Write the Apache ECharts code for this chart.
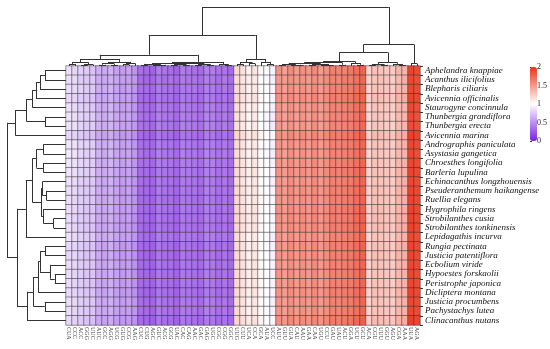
<!DOCTYPE html>
<html><head><meta charset="utf-8">
<script src="https://cdn.jsdelivr.net/npm/echarts@6/dist/echarts.min.js"></script>
<style>html,body{margin:0;padding:0;background:#fff}#c{width:550px;height:349px}</style>
</head><body><div id="c"></div>
<script>
// Column (codon) labels, in clustered order
const codons = ['CUA','CCC','ACC','GGG','UUC','AUC','GCC','AGG','UCG','GUG','CCG','AAG',
  'CUC','CUG','AGC','GUC','ACG','GCG','UAC','CAC','CAG','AAC','GAC','GAG','UGC','CGC','CGG','GGC',
  'UUG','CUU','UCA','CCA','GCA','AUA','UCC',
  'AUU','GUU','GUA','CAU','AAU','GAA','CAA','UGU','CCU','GAU','UAU','ACU','GGA','UCU','GCU',
  'ACA','CGU','UUU','GGU','AGU','CGA','AAA','UUA','AGA'];
// Row (species) labels, in clustered order
const species = ['Aphelandra knappiae','Acanthus ilicifolius','Blepharis ciliaris','Avicennia officinalis',
  'Staurogyne concinnula','Thunbergia grandiflora','Thunbergia erecta','Avicennia marina',
  'Andrographis paniculata','Asystasia gangetica','Chroesthes longifolia','Barleria lupulina',
  'Echinacanthus longzhouensis','Pseuderanthemum haikangense','Ruellia elegans','Hygrophila ringens',
  'Strobilanthes cusia','Strobilanthes tonkinensis','Lepidagathis incurva','Rungia pectinata',
  'Justicia patentiflora','Ecbolium viride','Hypoestes forskaolii','Peristrophe japonica',
  'Dicliptera montana','Justicia procumbens','Pachystachys lutea','Clinacanthus nutans'];
// RSCU values, one array per species (same order as codons)
const r00=[0.86,0.81,0.78,0.77,0.73,0.64,0.61,0.66,0.57,0.55,0.58,0.51,0.35,0.32,0.29,0.41,0.37,0.34,0.30,0.41,0.38,0.35,0.33,0.43,0.41,0.36,0.37,0.32,1.19,1.15,1.07,1.13,1.03,0.99,0.94,1.53,1.47,1.56,1.49,1.55,1.51,1.57,1.49,1.54,1.63,1.61,1.62,1.66,1.71,1.76,1.21,1.31,1.29,1.27,1.26,1.36,1.37,1.91,1.89];
const r01=[0.84,0.83,0.77,0.75,0.74,0.62,0.60,0.64,0.59,0.56,0.56,0.53,0.33,0.31,0.30,0.39,0.35,0.36,0.32,0.40,0.37,0.36,0.34,0.42,0.39,0.34,0.39,0.34,1.17,1.13,1.09,1.11,1.01,0.97,0.92,1.51,1.49,1.54,1.51,1.53,1.49,1.55,1.51,1.56,1.61,1.59,1.64,1.64,1.69,1.74,1.23,1.29,1.31,1.29,1.24,1.34,1.39,1.89,1.87];
const r02=[0.85,0.82,0.79,0.76,0.75,0.63,0.61,0.65,0.58,0.54,0.57,0.52,0.34,0.33,0.31,0.40,0.36,0.35,0.31,0.39,0.38,0.37,0.33,0.41,0.40,0.35,0.38,0.33,1.18,1.15,1.08,1.12,1.02,0.98,0.94,1.52,1.48,1.55,1.50,1.54,1.50,1.56,1.50,1.55,1.62,1.60,1.63,1.65,1.70,1.75,1.22,1.30,1.30,1.28,1.25,1.35,1.38,1.90,1.88];
const r03=[0.83,0.80,0.76,0.74,0.72,0.61,0.59,0.63,0.57,0.55,0.56,0.51,0.33,0.31,0.29,0.39,0.35,0.34,0.30,0.39,0.37,0.35,0.32,0.41,0.39,0.34,0.37,0.32,1.20,1.16,1.10,1.14,1.04,1.00,0.95,1.54,1.50,1.57,1.52,1.56,1.52,1.58,1.52,1.57,1.64,1.62,1.65,1.67,1.72,1.77,1.24,1.32,1.32,1.30,1.27,1.37,1.40,1.92,1.90];
const r04=[0.86,0.83,0.78,0.77,0.74,0.64,0.61,0.66,0.59,0.56,0.58,0.53,0.35,0.33,0.31,0.41,0.37,0.36,0.32,0.41,0.39,0.37,0.34,0.43,0.41,0.36,0.39,0.34,1.17,1.13,1.07,1.11,1.01,0.97,0.92,1.51,1.47,1.54,1.49,1.53,1.49,1.55,1.49,1.54,1.61,1.59,1.62,1.64,1.69,1.74,1.21,1.29,1.29,1.27,1.24,1.34,1.37,1.89,1.87];
const r05=[0.87,0.84,0.80,0.78,0.76,0.65,0.62,0.67,0.60,0.57,0.59,0.54,0.36,0.34,0.32,0.42,0.38,0.37,0.33,0.42,0.40,0.38,0.35,0.44,0.42,0.37,0.40,0.35,1.16,1.12,1.06,1.10,1.00,0.96,0.91,1.50,1.46,1.53,1.48,1.52,1.48,1.54,1.48,1.53,1.60,1.58,1.61,1.63,1.68,1.73,1.20,1.28,1.28,1.26,1.23,1.33,1.36,1.88,1.86];
const r06=[0.87,0.85,0.80,0.77,0.76,0.65,0.62,0.66,0.60,0.57,0.58,0.54,0.36,0.34,0.31,0.42,0.38,0.37,0.33,0.42,0.40,0.38,0.35,0.44,0.42,0.37,0.40,0.35,1.16,1.12,1.06,1.10,1.00,0.96,0.91,1.50,1.46,1.53,1.48,1.52,1.48,1.54,1.48,1.53,1.60,1.58,1.61,1.63,1.68,1.73,1.20,1.28,1.28,1.26,1.23,1.33,1.36,1.88,1.86];
const r07=[0.82,0.79,0.75,0.73,0.71,0.60,0.58,0.62,0.56,0.53,0.55,0.50,0.32,0.30,0.28,0.38,0.34,0.33,0.29,0.38,0.36,0.34,0.31,0.40,0.38,0.33,0.36,0.31,1.21,1.17,1.11,1.15,1.05,1.01,0.96,1.55,1.51,1.58,1.53,1.57,1.53,1.59,1.53,1.58,1.65,1.63,1.66,1.68,1.73,1.78,1.25,1.33,1.33,1.31,1.28,1.38,1.41,1.93,1.91];
const r08=[0.89,0.86,0.80,0.79,0.77,0.64,0.62,0.66,0.60,0.56,0.58,0.53,0.35,0.33,0.31,0.41,0.37,0.36,0.32,0.41,0.39,0.37,0.34,0.43,0.41,0.36,0.39,0.34,1.18,1.14,1.08,1.12,1.02,0.98,0.93,1.52,1.48,1.55,1.50,1.54,1.50,1.56,1.50,1.55,1.62,1.60,1.63,1.65,1.70,1.75,1.22,1.30,1.30,1.28,1.25,1.35,1.38,1.90,1.88];
const r09=[0.90,0.87,0.81,0.78,0.78,0.65,0.61,0.67,0.59,0.57,0.59,0.54,0.36,0.33,0.32,0.42,0.38,0.36,0.33,0.42,0.39,0.38,0.35,0.44,0.41,0.37,0.40,0.35,1.17,1.13,1.07,1.11,1.01,0.97,0.92,1.51,1.47,1.54,1.49,1.53,1.49,1.55,1.49,1.54,1.61,1.59,1.62,1.64,1.69,1.74,1.21,1.29,1.29,1.27,1.24,1.34,1.37,1.89,1.87];
const r10=[0.89,0.86,0.81,0.79,0.77,0.64,0.62,0.66,0.60,0.56,0.59,0.53,0.35,0.34,0.31,0.41,0.38,0.36,0.32,0.41,0.40,0.37,0.34,0.43,0.42,0.36,0.39,0.34,1.18,1.14,1.08,1.12,1.02,0.98,0.93,1.52,1.48,1.55,1.50,1.54,1.50,1.56,1.50,1.55,1.62,1.60,1.63,1.65,1.70,1.75,1.22,1.30,1.30,1.28,1.25,1.35,1.38,1.90,1.88];
const r11=[0.88,0.85,0.80,0.78,0.76,0.63,0.61,0.65,0.59,0.55,0.58,0.52,0.34,0.33,0.30,0.40,0.37,0.35,0.31,0.40,0.39,0.36,0.33,0.42,0.41,0.35,0.38,0.33,1.19,1.15,1.09,1.13,1.03,0.99,0.94,1.53,1.49,1.56,1.51,1.55,1.51,1.57,1.51,1.56,1.63,1.61,1.64,1.66,1.71,1.76,1.23,1.31,1.31,1.29,1.26,1.36,1.39,1.91,1.89];
const r12=[0.86,0.83,0.78,0.76,0.75,0.63,0.60,0.65,0.58,0.55,0.57,0.52,0.34,0.32,0.30,0.40,0.36,0.35,0.31,0.40,0.38,0.36,0.33,0.42,0.40,0.35,0.38,0.33,1.18,1.14,1.08,1.12,1.02,0.98,0.93,1.52,1.48,1.55,1.50,1.54,1.50,1.56,1.50,1.55,1.62,1.60,1.63,1.65,1.70,1.75,1.22,1.30,1.30,1.28,1.25,1.35,1.38,1.90,1.88];
const r13=[0.85,0.82,0.77,0.75,0.74,0.62,0.60,0.64,0.58,0.54,0.57,0.51,0.33,0.32,0.29,0.40,0.36,0.34,0.31,0.40,0.37,0.36,0.32,0.42,0.40,0.35,0.37,0.33,1.19,1.15,1.09,1.13,1.03,0.99,0.94,1.53,1.49,1.56,1.51,1.55,1.51,1.57,1.51,1.56,1.63,1.61,1.64,1.66,1.71,1.76,1.23,1.31,1.31,1.29,1.26,1.36,1.39,1.91,1.89];
const r14=[0.85,0.81,0.77,0.75,0.73,0.62,0.59,0.64,0.57,0.54,0.56,0.51,0.33,0.31,0.29,0.39,0.35,0.34,0.30,0.39,0.37,0.35,0.32,0.41,0.39,0.34,0.37,0.32,1.19,1.15,1.09,1.13,1.03,0.99,0.94,1.53,1.49,1.56,1.51,1.55,1.51,1.57,1.51,1.56,1.63,1.61,1.64,1.66,1.71,1.76,1.23,1.31,1.31,1.29,1.26,1.36,1.39,1.91,1.89];
const r15=[0.84,0.81,0.77,0.74,0.73,0.62,0.59,0.64,0.57,0.54,0.56,0.51,0.33,0.31,0.29,0.39,0.35,0.34,0.30,0.39,0.37,0.35,0.32,0.41,0.39,0.34,0.37,0.32,1.20,1.16,1.10,1.14,1.04,1.00,0.95,1.54,1.50,1.57,1.52,1.56,1.52,1.58,1.52,1.57,1.64,1.62,1.65,1.67,1.72,1.77,1.24,1.32,1.32,1.30,1.27,1.37,1.40,1.92,1.90];
const r16=[0.84,0.80,0.76,0.74,0.72,0.61,0.59,0.63,0.57,0.54,0.56,0.50,0.33,0.31,0.28,0.39,0.35,0.33,0.30,0.39,0.36,0.35,0.32,0.41,0.38,0.34,0.36,0.32,1.20,1.16,1.10,1.14,1.04,1.00,0.95,1.54,1.50,1.57,1.52,1.56,1.52,1.58,1.52,1.57,1.64,1.62,1.65,1.67,1.72,1.77,1.24,1.32,1.32,1.30,1.27,1.37,1.40,1.92,1.90];
const r17=[0.84,0.81,0.76,0.74,0.72,0.61,0.59,0.63,0.56,0.54,0.55,0.50,0.33,0.30,0.28,0.39,0.35,0.33,0.30,0.38,0.36,0.35,0.32,0.41,0.38,0.34,0.36,0.31,1.20,1.16,1.10,1.14,1.04,1.00,0.95,1.54,1.50,1.57,1.52,1.56,1.52,1.58,1.52,1.57,1.64,1.62,1.65,1.67,1.72,1.77,1.24,1.32,1.32,1.30,1.27,1.37,1.40,1.92,1.90];
const r18=[0.86,0.83,0.79,0.77,0.75,0.63,0.61,0.65,0.59,0.56,0.57,0.53,0.35,0.33,0.31,0.41,0.37,0.36,0.32,0.41,0.39,0.37,0.34,0.43,0.41,0.36,0.39,0.34,1.17,1.13,1.07,1.11,1.01,0.97,0.92,1.51,1.47,1.54,1.49,1.53,1.49,1.55,1.49,1.54,1.61,1.59,1.62,1.64,1.69,1.74,1.21,1.29,1.29,1.27,1.24,1.34,1.37,1.89,1.87];
const r19=[0.83,0.80,0.76,0.74,0.72,0.61,0.58,0.63,0.56,0.53,0.55,0.50,0.32,0.30,0.28,0.38,0.34,0.33,0.29,0.38,0.36,0.34,0.31,0.40,0.38,0.33,0.36,0.31,1.18,1.14,1.08,1.12,1.02,0.98,0.93,1.53,1.49,1.56,1.51,1.55,1.51,1.57,1.51,1.56,1.63,1.61,1.64,1.66,1.71,1.76,1.23,1.31,1.31,1.29,1.26,1.36,1.39,1.91,1.89];
const r20=[0.83,0.81,0.76,0.73,0.72,0.61,0.58,0.62,0.56,0.53,0.55,0.50,0.32,0.30,0.28,0.38,0.34,0.33,0.29,0.38,0.35,0.34,0.31,0.40,0.37,0.33,0.36,0.31,1.18,1.14,1.08,1.12,1.02,0.98,0.93,1.53,1.49,1.56,1.51,1.55,1.51,1.57,1.51,1.56,1.63,1.61,1.64,1.66,1.71,1.76,1.23,1.31,1.31,1.29,1.26,1.36,1.39,1.91,1.89];
const r21=[0.84,0.81,0.77,0.75,0.73,0.62,0.59,0.64,0.57,0.54,0.56,0.51,0.33,0.31,0.29,0.39,0.35,0.34,0.30,0.39,0.37,0.35,0.32,0.41,0.39,0.34,0.37,0.32,1.19,1.15,1.09,1.13,1.03,0.99,0.94,1.52,1.48,1.55,1.50,1.54,1.50,1.56,1.50,1.55,1.62,1.60,1.63,1.65,1.70,1.75,1.22,1.30,1.30,1.28,1.25,1.35,1.38,1.90,1.88];
const r22=[0.84,0.80,0.77,0.74,0.73,0.62,0.59,0.63,0.57,0.54,0.56,0.51,0.33,0.31,0.29,0.39,0.35,0.34,0.30,0.39,0.37,0.35,0.32,0.41,0.39,0.34,0.37,0.32,1.19,1.15,1.09,1.13,1.03,0.99,0.94,1.52,1.48,1.55,1.50,1.54,1.50,1.56,1.50,1.55,1.62,1.60,1.63,1.65,1.70,1.75,1.22,1.30,1.30,1.28,1.25,1.35,1.38,1.90,1.88];
const r23=[0.84,0.80,0.76,0.74,0.73,0.62,0.59,0.63,0.57,0.54,0.56,0.51,0.33,0.31,0.29,0.39,0.35,0.34,0.30,0.39,0.37,0.35,0.32,0.41,0.39,0.34,0.37,0.32,1.19,1.15,1.09,1.13,1.03,0.99,0.94,1.52,1.48,1.55,1.50,1.54,1.50,1.56,1.50,1.55,1.62,1.60,1.63,1.65,1.70,1.75,1.22,1.30,1.30,1.28,1.25,1.35,1.38,1.90,1.88];
const r24=[0.83,0.80,0.76,0.74,0.72,0.61,0.58,0.63,0.56,0.53,0.55,0.50,0.32,0.30,0.28,0.38,0.34,0.33,0.29,0.38,0.36,0.34,0.31,0.40,0.38,0.33,0.36,0.31,1.19,1.15,1.09,1.13,1.03,0.99,0.94,1.53,1.49,1.56,1.51,1.55,1.51,1.57,1.51,1.56,1.63,1.61,1.64,1.66,1.71,1.76,1.23,1.31,1.31,1.29,1.26,1.36,1.39,1.91,1.89];
const r25=[0.85,0.82,0.77,0.75,0.74,0.62,0.60,0.64,0.58,0.55,0.57,0.52,0.34,0.32,0.30,0.40,0.36,0.35,0.31,0.40,0.38,0.36,0.33,0.42,0.40,0.35,0.38,0.33,1.18,1.14,1.08,1.12,1.02,0.98,0.93,1.52,1.48,1.55,1.50,1.54,1.50,1.56,1.50,1.55,1.62,1.60,1.63,1.65,1.70,1.75,1.22,1.30,1.30,1.28,1.25,1.35,1.38,1.90,1.88];
const r26=[0.85,0.81,0.77,0.75,0.73,0.62,0.60,0.64,0.57,0.55,0.56,0.52,0.34,0.32,0.29,0.40,0.36,0.35,0.31,0.40,0.38,0.36,0.33,0.42,0.40,0.35,0.38,0.33,1.18,1.14,1.08,1.12,1.02,0.98,0.93,1.52,1.48,1.55,1.50,1.54,1.50,1.56,1.50,1.55,1.62,1.60,1.63,1.65,1.70,1.75,1.22,1.30,1.30,1.28,1.25,1.35,1.38,1.90,1.88];
const r27=[0.82,0.79,0.75,0.73,0.71,0.60,0.58,0.62,0.55,0.53,0.54,0.50,0.32,0.30,0.28,0.38,0.34,0.33,0.29,0.38,0.36,0.34,0.31,0.40,0.38,0.33,0.36,0.31,1.21,1.17,1.11,1.15,1.05,1.01,0.96,1.55,1.51,1.58,1.53,1.57,1.53,1.59,1.53,1.58,1.65,1.63,1.66,1.68,1.73,1.78,1.25,1.33,1.33,1.31,1.28,1.38,1.41,1.93,1.91];
const rscuRows=[r00,r01,r02,r03,r04,r05,r06,r07,r08,r09,r10,r11,r12,r13,r14,r15,r16,r17,r18,r19,r20,r21,r22,r23,r24,r25,r26,r27];
// Legend scale ticks
const legendTicks=[0,0.5,1,1.5,2];
// Column dendrogram: [height, left, right]; leaves are codon indices
const colTree=[1,
  [0.525,
    [0.19,
      [0.12,[0.06,[0.035,0,1],[0.025,[0.012,2,3],4]],[0.07,[0.04,[0.02,5,6],[0.018,7,8]],[0.045,[0.025,9,10],11]]],
      [0.07,[0.05,[0.035,[0.015,12,13],[0.02,[0.01,14,15],16]],[0.04,[0.025,[0.012,17,18],[0.015,19,20]],[0.03,[0.015,21,22],[0.018,23,24]]]],[0.03,25,[0.015,26,27]]]],
    [0.12,[0.06,[0.03,28,29],[0.04,30,31]],[0.07,32,[0.03,33,34]]]],
  [0.365,
    [0.23,
      [0.075,[0.06,[0.045,[0.03,[0.015,35,36],[0.02,37,[0.01,38,39]]],[0.035,[0.02,40,41],[0.015,[0.01,42,43],44]]],[0.02,45,46]],[0.05,47,[0.02,48,49]]],
      [0.06,[0.03,[0.015,50,51],[0.02,52,53]],[0.035,54,[0.018,55,56]]]],
    [0.04,57,58]]];
// Row dendrogram: [height, left, right]; leaves are species indices
const rowTree=[1,
  [0.86,[0.67,[0.57,[0.51,[0.44,[0.356,0,1],2],3],4],[0.356,5,6]],7],
  [0.83,
    [0.68,[0.57,[0.5,[0.385,8,9],[0.385,10,11]],[0.42,[0.40,12,[0.33,13,14]],[0.385,15,[0.21,16,17]]]],18],
    [0.66,[0.55,[0.47,[0.44,[0.356,19,20],[0.27,21,[0.19,22,23]]],24],[0.36,25,26]],27]]];

function segs(tree){
  const out=[];
  function walk(n){
    if(typeof n==='number') return {p:n,h:0};
    const a=walk(n[1]), b=walk(n[2]), h=n[0];
    out.push([[a.p,a.h],[a.p,h]],[[b.p,b.h],[b.p,h]],[[a.p,h],[b.p,h]]);
    return {p:(a.p+b.p)/2,h:h};
  }
  walk(tree);
  return out;
}
const colSegs=segs(colTree).map(s=>({coords:s}));
const rowSegs=segs(rowTree).map(s=>({coords:[[s[0][1],s[0][0]],[s[1][1],s[1][0]]]}));

const heatData=[];
rscuRows.forEach((row,r)=>row.forEach((v,c)=>heatData.push([c,r,v])));

const L=66,T=66,W=354,H=259;
const chart=echarts.init(document.getElementById('c'),null,{renderer:'canvas'});
chart.setOption({
  animation:false,
  grid:[
    {left:L,top:T,width:W,height:H},
    {left:L,top:7,width:W,height:T-7},
    {left:7,top:T,width:L-7,height:H},
    {left:530,top:67,width:7,height:74}
  ],
  xAxis:[
    {gridIndex:0,type:'category',data:codons,position:'bottom',
      axisLine:{show:false},axisTick:{show:false},splitLine:{show:false},
      axisLabel:{interval:0,rotate:-90,fontSize:6,margin:2,color:'#333',fontFamily:'Liberation Serif'}},
    {gridIndex:1,type:'value',min:-0.5,max:codons.length-0.5,show:false},
    {gridIndex:2,type:'value',min:0,max:1,inverse:true,show:false},
    {gridIndex:3,type:'value',min:0,max:1,show:false}
  ],
  yAxis:[
    {gridIndex:0,type:'category',data:species,inverse:true,position:'right',
      axisLine:{show:false},axisTick:{show:true,length:3,lineStyle:{color:'#333'}},splitLine:{show:false},
      axisLabel:{interval:0,fontSize:9,fontStyle:'italic',margin:5,color:'#111',fontFamily:'Liberation Serif'}},
    {gridIndex:1,type:'value',min:0,max:1,show:false},
    {gridIndex:2,type:'value',min:-0.5,max:species.length-0.5,inverse:true,show:false},
    {gridIndex:3,type:'value',min:legendTicks[0],max:legendTicks[legendTicks.length-1],interval:0.5,position:'right',
      axisLine:{show:false},axisTick:{show:true,length:2,lineStyle:{color:'#333'}},splitLine:{show:false},
      axisLabel:{fontSize:8,margin:1,color:'#222',fontFamily:'Liberation Serif'}}
  ],
  visualMap:{type:'continuous',min:0,max:2,seriesIndex:0,calculable:false,
    left:530,top:67,itemWidth:7,itemHeight:74,padding:0,text:null,showLabel:false,
    inRange:{color:['#7a22e0','#ffffff','#eb3219']}},
  series:[
    {type:'heatmap',xAxisIndex:0,yAxisIndex:0,data:heatData,
      itemStyle:{borderColor:'rgba(50,50,50,0.85)',borderWidth:0.6},
      emphasis:{disabled:true}},
    {type:'lines',coordinateSystem:'cartesian2d',xAxisIndex:1,yAxisIndex:1,data:colSegs,
      lineStyle:{color:'#333',width:1,opacity:1},silent:true},
    {type:'lines',coordinateSystem:'cartesian2d',xAxisIndex:2,yAxisIndex:2,data:rowSegs,
      lineStyle:{color:'#333',width:1,opacity:1},silent:true}
  ]
});
</script></body></html>
